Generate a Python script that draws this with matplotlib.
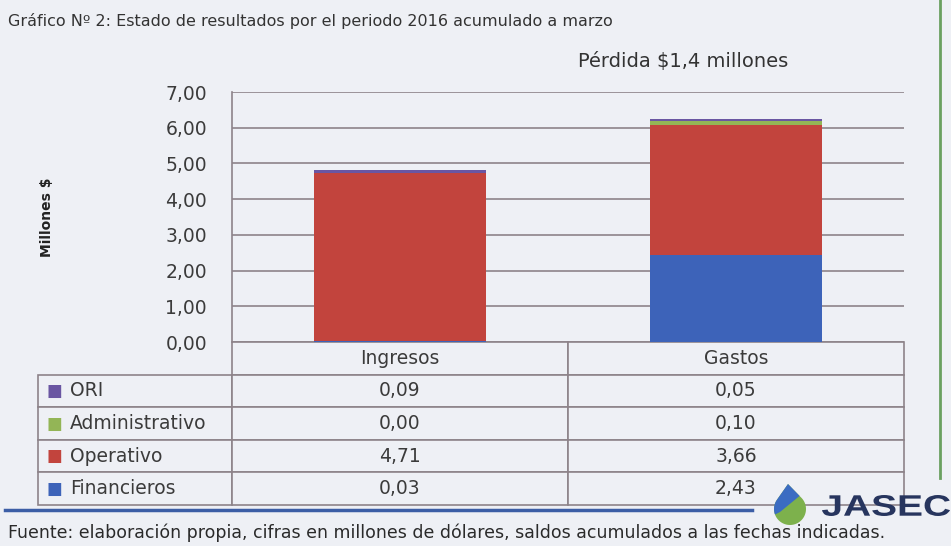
import matplotlib
matplotlib.use("Agg")
import matplotlib.pyplot as plt
import numpy as np
from matplotlib.patches import Polygon, PathPatch
from matplotlib.textpath import TextPath
from matplotlib.font_manager import FontProperties
from matplotlib.transforms import Affine2D

plt.rcParams['font.family'] = ['DejaVu Sans']

# datos del estado de resultados (millones de dolares)
categorias = ['Ingresos', 'Gastos']
series = ['Financieros', 'Operativo', 'Administrativo', 'ORI']
financieros = [0.03, 2.43]
operativo = [4.71, 3.66]
administrativo = [0.00, 0.10]
ori = [0.09, 0.05]
colores = ['#3d63b9', '#c2443d', '#93b556', '#6a56a2']
yticks = [0, 1, 2, 3, 4, 5, 6, 7]

fondo = '#eef0f5'
linea = '#8d8389'
texto = '#3b3b3b'

fig = plt.figure(figsize=(9.51, 5.46), dpi=100, facecolor=fondo)
W, H = 951, 546

def caja(x0, y0, x1, y1):
    # pixeles -> coordenadas de figura
    return [x0 / W, 1 - y1 / H, (x1 - x0) / W, (y1 - y0) / H]

def px(pts):
    return [(a / W, 1 - b / H) for a, b in pts]

ax = fig.add_axes(caja(232, 92, 904, 342))
ax.set_facecolor(fondo)

valores = [financieros, operativo, administrativo, ori]
x = np.arange(len(categorias))
base = np.zeros(len(categorias))
for nombre, vals, col in zip(series, valores, colores):
    ax.bar(x, vals, width=0.51, bottom=base, color=col, edgecolor='none', zorder=3)
    base += np.array(vals)

ax.set_xlim(-0.5, 1.5)
ax.set_ylim(0, 7)
ax.set_yticks(yticks)
ax.set_yticklabels(['{:.2f}'.format(v).replace('.', ',') for v in yticks],
                   fontsize=13.5, color=texto)
ax.tick_params(axis='y', length=0, pad=18)
ax.set_xticks([])
ax.grid(axis='y', color=linea, lw=1.2, zorder=1)
for s in ['top', 'right', 'bottom']:
    ax.spines[s].set_visible(False)
ax.spines['left'].set_color(linea)
ax.spines['left'].set_linewidth(1.2)

# tabla de datos bajo el grafico, de arriba hacia abajo
filas = series[::-1]
celdas = [['{:.2f}'.format(v).replace('.', ',') for v in vals] for vals in valores[::-1]]
ancho_etq = 194 / 672
tabla = ax.table(cellText=celdas, rowLabels=filas, colLabels=categorias,
                 colWidths=[0.5, 0.5],
                 cellLoc='center', rowLoc='left', colLoc='center',
                 bbox=[0, -0.652, 1, 0.652])
tabla._autoColumns = []
tabla.auto_set_font_size(False)
for (r, c), cell in tabla.get_celld().items():
    cell.set_edgecolor(linea)
    cell.set_linewidth(1.2)
    cell.set_facecolor(fondo)
    cell.get_text().set_fontsize(13.5)
    cell.get_text().set_color(texto)
    if c == -1:
        cell.set_width(ancho_etq)
        cell.PAD = 0.165

nfil = len(filas) + 1
for i, col in enumerate(colores[::-1]):
    yc = -0.652 + (nfil - 1.5 - i) * 0.652 / nfil
    ax.text((54 - 232) / 672, yc, '\u25a0', color=col, fontsize=12, ha='center',
            va='center', transform=ax.transAxes)

ax.set_ylabel('Millones $', fontsize=10, fontweight='bold', color='#222222', labelpad=0)
ax.yaxis.set_label_coords(-0.265, 0.5)

fig.text(8 / W, 1 - 21 / H,
         'Gráfico Nº 2: Estado de resultados por el periodo 2016 acumulado a marzo',
         fontsize=11.5, color='#333333', va='center', ha='left')
fig.text(578 / W, 1 - 61 / H, 'Pérdida $1,4 millones', fontsize=14,
         color='#333333', va='center', ha='left')
fig.text(8 / W, 1 - 533 / H,
         'Fuente: elaboración propia, cifras en millones de dólares, saldos acumulados a las fechas indicadas.',
         fontsize=12.5, color='#2a2a2a', va='center', ha='left')

# lineas de marco del documento
fig.add_artist(plt.Line2D([5 / W, 752 / W], [1 - 510 / H, 1 - 510 / H],
                          color='#3c5ea6', lw=2.5, transform=fig.transFigure))
fig.add_artist(plt.Line2D([940 / W, 940 / W], [1.0, 1 - 478 / H],
                          color='#6aa060', lw=2, transform=fig.transFigure))

# logotipo: gota bicolor y nombre
cx, cy, rad = 790, 509, 16
punta = (788, 484)
d = np.hypot(punta[0] - cx, punta[1] - cy)
dir_punta = np.arctan2(cy - punta[1], punta[0] - cx)
abre = np.arccos(rad / d)
ang = np.linspace(dir_punta + abre, dir_punta - abre + 2 * np.pi, 50)
contorno = [punta] + [(cx + rad * np.cos(a), cy - rad * np.sin(a)) for a in ang]
gota = Polygon(px(contorno), closed=True, color='#7db14c', lw=0, transform=fig.transFigure)
fig.add_artist(gota)
mitad = Polygon(px([(760, 475), (812, 475), (802, 494), (780, 512), (760, 522)]),
                closed=True, color='#3b6cc2', lw=0, transform=fig.transFigure)
mitad.set_clip_path(gota)
fig.add_artist(mitad)

tp = TextPath((0, 0), 'JASEC', size=1,
              prop=FontProperties(family=['Liberation Sans', 'DejaVu Sans'], weight='bold'))
ext = tp.get_extents()
escala = Affine2D().translate(-ext.x0, -ext.y0).scale(128 / ext.width / W, 21 / ext.height / H)
escala = escala.translate(822 / W, 1 - 516 / H)
fig.add_artist(PathPatch(tp, color='#27355e', lw=0, transform=escala + fig.transFigure))

fig.savefig('out.png', dpi=100, facecolor=fondo)
